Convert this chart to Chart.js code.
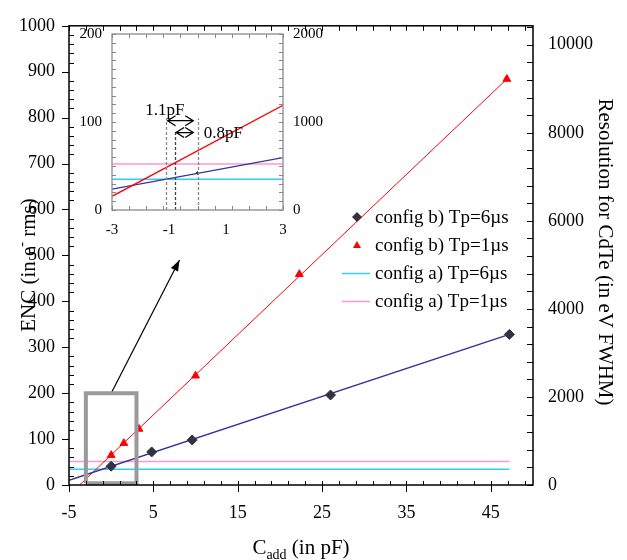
<!DOCTYPE html>
<html><head><meta charset="utf-8">
<script src="https://cdn.jsdelivr.net/npm/chart.js@4/dist/chart.umd.min.js"></script>
<style>
html,body{margin:0;padding:0;background:#fff;}
#wrap{position:relative;width:627px;height:560px;overflow:hidden;}
#main{position:absolute;left:0;top:0;}
#inset{position:absolute;left:52px;top:14px;}
</style></head><body>
<div id="wrap"><canvas id="main" width="627" height="560"></canvas><canvas id="inset" width="300" height="230"></canvas></div>
<script>
// ---------- main chart data ----------
const xTickValues = [-5, 5, 15, 25, 35, 45];
const encTickValues = [0, 100, 200, 300, 400, 500, 600, 700, 800, 900, 1000];
const resTickValues = [0, 2000, 4000, 6000, 8000, 10000];
const capB6 = [0, 4.8, 9.6, 26, 47.2];
const encB6 = [41, 72, 98, 196, 328];
const capB1 = [0, 1.5, 3.3, 10, 22.3, 46.9];
const encB1 = [65, 91, 122, 238, 459, 884];
const fitB6Cap = [-5, 47.2];
const fitB6Enc = [10, 328];
const fitB1Cap = [-3.75, 46.9];
const fitB1Enc = [0, 884];
const lineA6Cap = [-5, 47.2];
const lineA6Enc = [34.5, 34.5];
const lineA1Cap = [-5, 47.2];
const lineA1Enc = [51, 51];
const zoomBoxCap = [-3, -3, 3, 3, -3];
const zoomBoxEnc = [4, 200, 200, 4, 4];
const arrowCap = [0, 8.1];
const arrowEnc = [200, 490];
const legendLabels = ['config b) Tp=6\u00b5s', 'config b) Tp=1\u00b5s', 'config a) Tp=6\u00b5s', 'config a) Tp=1\u00b5s'];

// ---------- inset data ----------
const insetXTicks = [-3, -1, 1, 3];
const insetEncTicks = [0, 100, 200];
const insetResTicks = [0, 1000, 2000];
const insetFitB1Cap = [-3, 3];
const insetFitB1Enc = [15.5, 119];
const insetFitB6Cap = [-3, 3];
const insetFitB6Enc = [23.8, 59.6];
const insetA6Cap = [-3, 3];
const insetA6Enc = [35, 35];
const insetA1Cap = [-3, 3];
const insetA1Enc = [52.4, 52.4];
const insetPointCap = [0];
const insetPointEnc = [42];
const markerCap = [-1.1, -0.8, 0];
const markerTop = [104, 89, 104];
const spanLabels = ['1.1pF', '0.8pF'];
const spanFrom = [-1.05, -0.75];
const spanTo = [-0.15, -0.15];
const spanEnc = [101.5, 88];
const spanLabelCap = [-1.83, 0.22];
const spanLabelEnc = [113.5, 87];

const zip = (xs, ys) => xs.map((x, i) => ({x: x, y: ys[i]}));
const SERIF = '"Liberation Serif", "DejaVu Serif", serif';
const plain = v => String(v);

function range(a, b, step) { const r = []; for (let v = a; v <= b + 1e-9; v += step) r.push(+v.toFixed(6)); return r; }

const mainDecor = {
  id: 'mainDecor',
  afterDraw(chart) {
    const ctx = chart.ctx, a = chart.chartArea;
    const x = chart.scales.x, y = chart.scales.y, y2 = chart.scales.y2;
    ctx.save();
    // arrow head
    const px0 = x.getPixelForValue(arrowCap[0]), py0 = y.getPixelForValue(arrowEnc[0]);
    const px1 = x.getPixelForValue(arrowCap[1]), py1 = y.getPixelForValue(arrowEnc[1]);
    const ang = Math.atan2(py1 - py0, px1 - px0);
    ctx.fillStyle = '#000';
    ctx.beginPath();
    ctx.moveTo(px1, py1);
    ctx.lineTo(px1 - 11 * Math.cos(ang) + 4 * Math.sin(ang), py1 - 11 * Math.sin(ang) - 4 * Math.cos(ang));
    ctx.lineTo(px1 - 11 * Math.cos(ang) - 4 * Math.sin(ang), py1 - 11 * Math.sin(ang) + 4 * Math.cos(ang));
    ctx.closePath(); ctx.fill();

    // frame
    ctx.strokeStyle = '#000'; ctx.lineWidth = 1.5;
    ctx.strokeRect(a.left, a.top, a.right - a.left, a.bottom - a.top);
    ctx.lineWidth = 1;
    ctx.beginPath();
    xTickValues.forEach(v => { const p = Math.round(x.getPixelForValue(v)) + 0.5; ctx.moveTo(p, a.bottom); ctx.lineTo(p, a.bottom + 7); });
    range(-3, 49, 2).forEach(v => { const p = Math.round(x.getPixelForValue(v)) + 0.5; ctx.moveTo(p, a.bottom); ctx.lineTo(p, a.bottom - 4); });
    range(-5, 49, 2).forEach(v => { const p = Math.round(x.getPixelForValue(v)) + 0.5; ctx.moveTo(p, a.top); ctx.lineTo(p, a.top + 5); });
    encTickValues.forEach(v => { const p = Math.round(y.getPixelForValue(v)) + 0.5; ctx.moveTo(a.left, p); ctx.lineTo(a.left - 7, p); });
    range(0, 1000, 20).forEach(v => { if (v % 100 === 0) return; const p = Math.round(y.getPixelForValue(v)) + 0.5; ctx.moveTo(a.left, p); ctx.lineTo(a.left + 5, p); });
    range(0, 10400, 400).forEach(v => { const p = Math.round(y2.getPixelForValue(v)) + 0.5; ctx.moveTo(a.right, p); ctx.lineTo(a.right - 6, p); });
    ctx.stroke();

    // legend
    ctx.fillStyle = '#000';
    ctx.font = '19px ' + SERIF;
    ctx.textBaseline = 'middle'; ctx.textAlign = 'left';
    const ly = [217, 245, 273, 301];
    const mx = 357;
    legendLabels.forEach((t, i) => { ctx.fillText(t, 375, ly[i] + 1); });
    ctx.fillStyle = '#333340';
    ctx.beginPath(); ctx.moveTo(mx, ly[0] - 5); ctx.lineTo(mx + 5, ly[0]); ctx.lineTo(mx, ly[0] + 5); ctx.lineTo(mx - 5, ly[0]); ctx.closePath(); ctx.fill();
    ctx.fillStyle = '#ff0000';
    ctx.beginPath(); ctx.moveTo(mx, ly[1] - 4); ctx.lineTo(mx + 4, ly[1] + 3); ctx.lineTo(mx - 4, ly[1] + 3); ctx.closePath(); ctx.fill();
    ctx.lineWidth = 1.5;
    ctx.strokeStyle = '#33ccff'; ctx.beginPath(); ctx.moveTo(342, ly[2] + 0.5); ctx.lineTo(370, ly[2] + 0.5); ctx.stroke();
    ctx.strokeStyle = '#ff99cc'; ctx.beginPath(); ctx.moveTo(342, ly[3] + 0.5); ctx.lineTo(370, ly[3] + 0.5); ctx.stroke();

    // axis titles
    ctx.fillStyle = '#000';
    ctx.textBaseline = 'alphabetic';
    const big = '21px ' + SERIF, small = '14px ' + SERIF;
    const parts = [['C', big, 0], ['add', small, 5], [' (in pF)', big, 0]];
    let w = 0; parts.forEach(p => { ctx.font = p[1]; w += ctx.measureText(p[0]).width; });
    let cx = (a.left + a.right) / 2 - w / 2;
    parts.forEach(p => { ctx.font = p[1]; ctx.fillText(p[0], cx, 554 + p[2]); cx += ctx.measureText(p[0]).width; });
    ctx.save();
    ctx.translate(35, 265); ctx.rotate(-Math.PI / 2);
    const lp = [['ENC (in e', big, 0], ['-', small, -9], [' rms)', big, 0]];
    w = 0; lp.forEach(p => { ctx.font = p[1]; w += ctx.measureText(p[0]).width; });
    cx = -w / 2;
    lp.forEach(p => { ctx.font = p[1]; ctx.fillText(p[0], cx, p[2]); cx += ctx.measureText(p[0]).width; });
    ctx.restore();
    ctx.save();
    ctx.translate(599, 252); ctx.rotate(Math.PI / 2);
    ctx.font = big; ctx.textAlign = 'center';
    ctx.fillText('Resolution for CdTe (in eV FWHM)', 0, 0);
    ctx.restore();
    ctx.restore();
  }
};

const tickFont = {family: SERIF, size: 18};
const mainChart = new Chart(document.getElementById('main'), {
  type: 'scatter',
  data: {
    datasets: [
      {label: 'box', data: zip(zoomBoxCap, zoomBoxEnc), showLine: true, borderColor: '#9a9a9a', borderWidth: 4, borderJoinStyle: 'miter', pointRadius: 0, clip: false, order: 0},
      {label: 'arrow', data: zip(arrowCap, arrowEnc), showLine: true, borderColor: '#000', borderWidth: 1.2, pointRadius: 0, order: 1},
      {label: legendLabels[0], data: zip(capB6, encB6), showLine: false, pointStyle: 'rectRot', pointRadius: 5, backgroundColor: '#333340', borderColor: '#333340', order: 2},
      {label: legendLabels[1], data: zip(capB1, encB1), showLine: false, pointStyle: 'triangle', pointRadius: 4.5, backgroundColor: '#ff0000', borderColor: '#ff0000', order: 3},
      {label: 'fit6', data: zip(fitB6Cap, fitB6Enc), showLine: true, borderColor: '#333399', borderWidth: 1.5, pointRadius: 0, order: 4},
      {label: 'fit1', data: zip(fitB1Cap, fitB1Enc), showLine: true, borderColor: '#ff0000', borderWidth: 1, pointRadius: 0, order: 5},
      {label: legendLabels[2], data: zip(lineA6Cap, lineA6Enc), showLine: true, borderColor: '#33ccff', borderWidth: 1.5, pointRadius: 0, order: 6},
      {label: legendLabels[3], data: zip(lineA1Cap, lineA1Enc), showLine: true, borderColor: '#ff99cc', borderWidth: 1.5, pointRadius: 0, order: 7}
    ]
  },
  options: {
    responsive: false, animation: false, devicePixelRatio: 1,
    layout: {padding: {top: 10, left: 0, right: 0, bottom: 0}},
    plugins: {legend: {display: false}, tooltip: {enabled: false}},
    scales: {
      x: {type: 'linear', position: 'bottom', min: -5, max: 50,
        afterBuildTicks: s => { s.ticks = xTickValues.map(v => ({value: v})); },
        afterFit: s => { s.height = 75; },
        grid: {display: false, drawTicks: false}, border: {display: false},
        ticks: {padding: 17, font: tickFont, color: '#000', maxRotation: 0, autoSkip: false, callback: plain}},
      y: {type: 'linear', position: 'left', min: 0, max: 1000,
        afterBuildTicks: s => { s.ticks = encTickValues.map(v => ({value: v})); },
        afterFit: s => { s.width = 69; },
        grid: {display: false, drawTicks: false}, border: {display: false},
        ticks: {padding: 14, font: tickFont, color: '#000', autoSkip: false, callback: plain}},
      y2: {type: 'linear', position: 'right', min: 0, max: 10430,
        afterBuildTicks: s => { s.ticks = resTickValues.map(v => ({value: v})); },
        afterFit: s => { s.width = 94; },
        grid: {display: false, drawTicks: false}, border: {display: false},
        ticks: {padding: 15, font: tickFont, color: '#000', autoSkip: false, callback: plain}}
    }
  },
  plugins: [mainDecor]
});

// ---------- inset ----------
const insetDecor = {
  id: 'insetDecor',
  afterDraw(chart) {
    const ctx = chart.ctx, a = chart.chartArea;
    const x = chart.scales.x, y = chart.scales.y;
    ctx.save();
    const dashCols = ['#888', '#444', '#888'];
    ctx.lineWidth = 1.3; ctx.setLineDash([3, 2]);
    markerCap.forEach((c, i) => {
      const p = Math.round(x.getPixelForValue(c)) + 0.5;
      ctx.strokeStyle = dashCols[i];
      ctx.beginPath(); ctx.moveTo(p, a.bottom); ctx.lineTo(p, y.getPixelForValue(markerTop[i])); ctx.stroke();
    });
    ctx.setLineDash([]);
    ctx.strokeStyle = '#000'; ctx.lineWidth = 1.3;
    spanFrom.forEach((f, i) => {
      const x1 = x.getPixelForValue(f), x2 = x.getPixelForValue(spanTo[i]), py = y.getPixelForValue(spanEnc[i]);
      ctx.beginPath();
      ctx.moveTo(x1, py); ctx.lineTo(x2, py);
      ctx.moveTo(x1 + 8, py - 5); ctx.lineTo(x1, py); ctx.lineTo(x1 + 8, py + 5);
      ctx.moveTo(x2 - 8, py - 5); ctx.lineTo(x2, py); ctx.lineTo(x2 - 8, py + 5);
      ctx.stroke();
    });
    ctx.fillStyle = '#000'; ctx.font = '17px ' + SERIF; ctx.textBaseline = 'middle'; ctx.textAlign = 'left';
    spanLabels.forEach((t, i) => { ctx.fillText(t, x.getPixelForValue(spanLabelCap[i]), y.getPixelForValue(spanLabelEnc[i])); });
    ctx.strokeStyle = '#9a9a9a'; ctx.lineWidth = 1.5;
    ctx.strokeRect(a.left, a.top, a.right - a.left, a.bottom - a.top);
    ctx.lineWidth = 1; ctx.strokeStyle = '#888';
    ctx.beginPath();
    range(-3, 3, 0.6).forEach(v => { const p = Math.round(x.getPixelForValue(v)) + 0.5;
      ctx.moveTo(p, a.bottom); ctx.lineTo(p, a.bottom - 4); ctx.moveTo(p, a.top); ctx.lineTo(p, a.top + 4); });
    range(0, 200, 10).forEach(v => { const p = Math.round(y.getPixelForValue(v)) + 0.5;
      ctx.moveTo(a.left, p); ctx.lineTo(a.left + 4, p); ctx.moveTo(a.right, p); ctx.lineTo(a.right - 4, p); });
    ctx.stroke();
    ctx.restore();
  }
};
const insetFont = {family: SERIF, size: 15};
const insetChart = new Chart(document.getElementById('inset'), {
  type: 'scatter',
  data: {
    datasets: [
      {label: 'pt', data: zip(insetPointCap, insetPointEnc), showLine: false, pointStyle: 'rectRot', pointRadius: 1.5, backgroundColor: '#333340', borderColor: '#333340', order: 0},
      {label: 'fit1', data: zip(insetFitB1Cap, insetFitB1Enc), showLine: true, borderColor: '#ff0000', borderWidth: 1.3, pointRadius: 0, order: 1},
      {label: 'fit6', data: zip(insetFitB6Cap, insetFitB6Enc), showLine: true, borderColor: '#333399', borderWidth: 1.3, pointRadius: 0, order: 2},
      {label: 'a1', data: zip(insetA1Cap, insetA1Enc), showLine: true, borderColor: '#ff99cc', borderWidth: 1.5, pointRadius: 0, order: 3},
      {label: 'a6', data: zip(insetA6Cap, insetA6Enc), showLine: true, borderColor: '#33ccff', borderWidth: 1.5, pointRadius: 0, order: 4}
    ]
  },
  options: {
    responsive: false, animation: false, devicePixelRatio: 1,
    layout: {padding: {top: 20, left: 0, right: 0, bottom: 0}},
    plugins: {legend: {display: false}, tooltip: {enabled: false}},
    scales: {
      x: {type: 'linear', position: 'bottom', min: -3, max: 3,
        afterBuildTicks: s => { s.ticks = insetXTicks.map(v => ({value: v})); },
        afterFit: s => { s.height = 34; },
        grid: {display: false, drawTicks: false}, border: {display: false},
        ticks: {padding: 11, font: insetFont, color: '#000', maxRotation: 0, autoSkip: false, callback: plain}},
      y: {type: 'linear', position: 'left', min: 0, max: 200,
        afterBuildTicks: s => { s.ticks = insetEncTicks.map(v => ({value: v})); },
        afterFit: s => { s.width = 60; },
        grid: {display: false, drawTicks: false}, border: {display: false},
        ticks: {padding: 10, font: insetFont, color: '#000', autoSkip: false, callback: plain}},
      y2: {type: 'linear', position: 'right', min: 0, max: 2000,
        afterBuildTicks: s => { s.ticks = insetResTicks.map(v => ({value: v})); },
        afterFit: s => { s.width = 69; },
        grid: {display: false, drawTicks: false}, border: {display: false},
        ticks: {padding: 10, font: insetFont, color: '#000', autoSkip: false, callback: plain}}
    }
  },
  plugins: [insetDecor]
});
</script>
</body></html>
